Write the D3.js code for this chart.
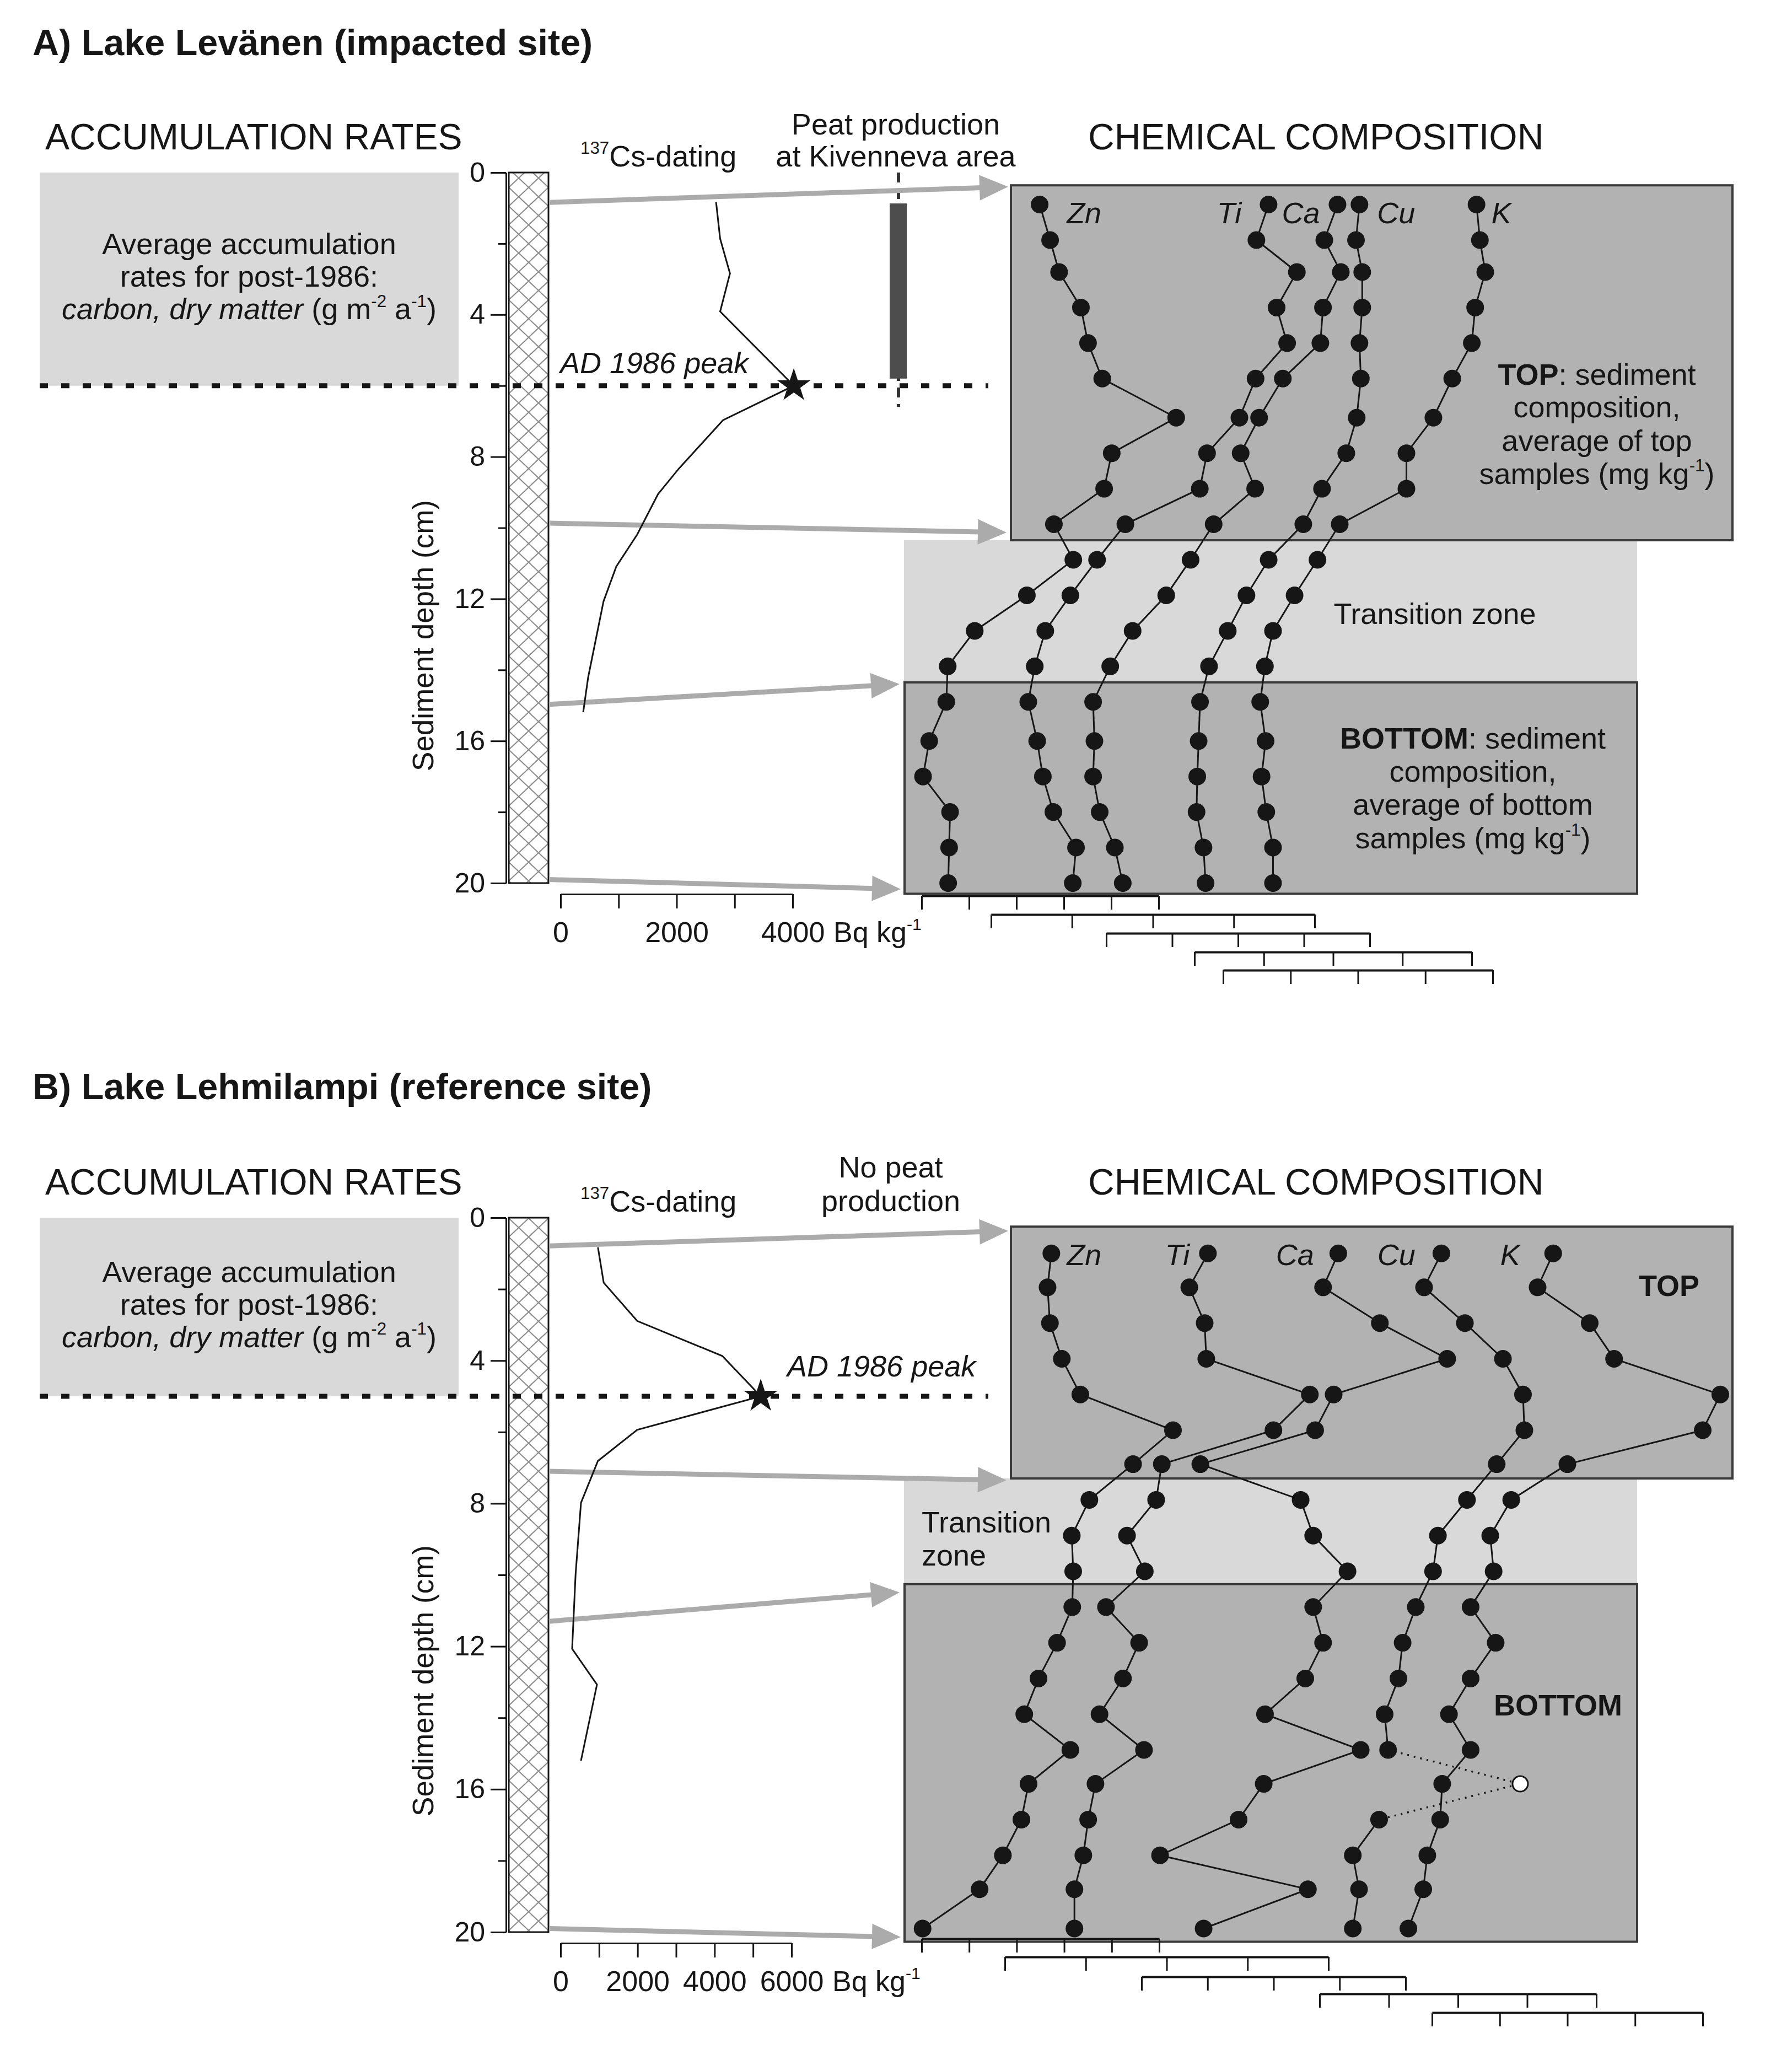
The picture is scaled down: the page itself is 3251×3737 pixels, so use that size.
<!DOCTYPE html>
<html>
<head>
<meta charset="utf-8">
<script src="https://cdn.jsdelivr.net/npm/d3@7"></script>
<style>
  body { margin: 0; background: #fff; }
  svg { display: block; font-family: "Liberation Sans", Arial, sans-serif; }
</style>
</head>
<body>
<div id="chart"></div>
<script>

// Sediment profile figure: 137Cs dating + element profiles for two lakes

// ---- shared values ----
const elementNames = ["Zn", "Ti", "Ca", "Cu", "K"];
const depthTicks = [0, 4, 8, 12, 16, 20];
const depthMinorTicks = [2, 6, 10, 14, 18];

// ---- A) Lake Levänen ----
// element values are read in units of their own (unlabelled) axis intervals
const sampleDepthA = [0.9, 1.9, 2.8, 3.8, 4.8, 5.8, 6.9, 7.9, 8.9, 9.9, 10.9, 11.9, 12.9, 13.9, 14.9, 16, 17, 18, 19, 20];
const znA = [2.49, 2.71, 2.90, 3.36, 3.51, 3.81, 5.37, 4.01, 3.85, 2.79, 3.20, 2.22, 1.12, 0.55, 0.52, 0.16, 0.03, 0.60, 0.58, 0.56];
const tiA = [3.43, 3.28, 3.78, 3.53, 3.66, 3.27, 3.07, 2.67, 2.58, 1.66, 1.31, 0.98, 0.67, 0.54, 0.46, 0.57, 0.64, 0.77, 1.05, 1.01];
const caA = [3.51, 3.31, 3.56, 3.29, 3.25, 2.68, 2.32, 2.04, 2.26, 1.63, 1.28, 0.91, 0.40, 0.06, -0.20, -0.18, -0.20, -0.10, 0.13, 0.25];
const cuA = [2.38, 2.33, 2.42, 2.42, 2.38, 2.40, 2.34, 2.19, 1.84, 1.57, 1.07, 0.75, 0.48, 0.21, 0.08, 0.06, 0.04, 0.03, 0.13, 0.16];
const kA  = [3.76, 3.81, 3.89, 3.74, 3.69, 3.40, 3.12, 2.72, 2.72, 1.73, 1.40, 1.06, 0.74, 0.62, 0.55, 0.63, 0.57, 0.64, 0.74, 0.74];
const axisIntervalsA = [5, 4, 4, 4, 4];

const csDepthA = [0.83, 1.86, 2.84, 3.91, 6.0, 6.97, 8.33, 9.05, 10.19, 11.09, 12.07, 14.21, 15.19];
const csValueA = [2680, 2750, 2920, 2750, 4020, 2800, 2040, 1680, 1320, 960, 740, 475, 390];
const peakA = [6.0, 4020];            // depth (cm), Bq/kg
const csTicksA = [0, 1000, 2000, 3000, 4000];
const csLabelsA = [0, 2000, 4000];
const zoneDepthA = [0.36, 10.35, 14.35, 20.3];   // top start, transition start, bottom start, bottom end
const arrowDepthA = [[0.84, 0.40], [9.87, 10.13], [14.97, 14.4], [19.9, 20.17]];
const peatDepthA = [0.87, 5.8];
const peatTextA = ["Peat production", "at Kivenneva area"];

// ---- B) Lake Lehmilampi ----
const sampleDepthB = [1, 1.95, 2.95, 3.95, 4.95, 5.95, 6.9, 7.9, 8.9, 9.9, 10.9, 11.9, 12.9, 13.9, 14.9, 15.85, 16.85, 17.85, 18.8, 19.9];
const znB = [2.73, 2.65, 2.70, 2.95, 3.34, 5.29, 4.45, 3.53, 3.16, 3.19, 3.17, 2.85, 2.46, 2.16, 3.13, 2.25, 2.10, 1.71, 1.22, 0.02];
const tiB = [2.51, 2.28, 2.47, 2.49, 3.77, 3.32, 1.94, 1.87, 1.51, 1.73, 1.25, 1.66, 1.46, 1.17, 1.72, 1.12, 1.03, 0.97, 0.86, 0.86];
const caB = [2.98, 2.75, 3.61, 4.63, 2.91, 2.63, 0.89, 2.41, 2.60, 3.12, 2.60, 2.75, 2.48, 1.87, 3.32, 1.85, 1.47, 0.28, 2.52, 0.94];
const cuB = [1.76, 1.51, 2.10, 2.65, 2.94, 2.96, 2.56, 2.13, 1.71, 1.64, 1.39, 1.20, 1.14, 0.94, 0.99, 2.90, 0.86, 0.48, 0.57, 0.48];
const kB  = [1.79, 1.56, 2.33, 2.69, 4.26, 4.00, 2.00, 1.17, 0.86, 0.91, 0.57, 0.94, 0.57, 0.25, 0.57, 0.15, 0.12, -0.07, -0.13, -0.35];
const axisIntervalsB = [5, 4, 4, 4, 4];
const cuOutlierB = 15;   // open circle, joined with dotted lines

const csDepthB = [0.83, 1.82, 2.89, 3.87, 5.0, 5.94, 6.81, 7.98, 9.98, 12.07, 13.07, 15.2];
const csValueB = [970, 1120, 1990, 4200, 5200, 1990, 970, 530, 390, 300, 945, 530];
const peakB = [5.0, 5200];
const csTicksB = [0, 1000, 2000, 3000, 4000, 5000, 6000];
const csLabelsB = [0, 2000, 4000, 6000];
const zoneDepthB = [0.25, 7.3, 10.26, 20.27];
const arrowDepthB = [[0.79, 0.37], [7.1, 7.35], [11.3, 10.49], [19.9, 20.14]];
const peatTextB = ["No peat", "production"];


// ---- svg ----
const W = 3251, H = 3737;
const svg = d3.select("#chart").append("svg")
  .attr("width", W).attr("height", H)
  .attr("viewBox", [0, 0, W, H]);
svg.append("rect").attr("width", W).attr("height", H).attr("fill", "#fff");

const ink = "#161616";
const colX = 923, colW = 72;          // hatched core column
const axisX = 918;

const defs = svg.append("defs");
const hatch = defs.append("pattern")
  .attr("id", "hatch")
  .attr("patternUnits", "userSpaceOnUse")
  .attr("x", colX).attr("y", 0)
  .attr("width", 36).attr("height", 34);
hatch.append("rect").attr("width", 36).attr("height", 34).attr("fill", "#fff");
hatch.append("path")
  .attr("d", "M0,0L36,34M36,0L0,34M-2,32L2,36M34,-2L38,2")
  .attr("stroke", "#8c8c8c").attr("stroke-width", 2);

// text with italic / bold / superscript pieces
function richText(sel, parts, fs) {
  let raised = false;
  parts.forEach(p => {
    const t = sel.append("tspan").text(p.t);
    if (p.i) t.attr("font-style", "italic");
    if (p.b) t.attr("font-weight", "bold");
    if (p.sup) {
      t.attr("font-size", fs * 0.58);
      if (!raised) t.attr("dy", -fs * 0.42);
      raised = true;
    } else if (raised) {
      t.attr("dy", fs * 0.42);
      raised = false;
    }
  });
}

function grayArrow(x1, y1, x2, y2) {
  const a = Math.atan2(y2 - y1, x2 - x1);
  const L = 52, hw = 23;
  const bx = x2 - L * Math.cos(a), by = y2 - L * Math.sin(a);
  svg.append("line")
    .attr("x1", x1).attr("y1", y1)
    .attr("x2", bx + 4 * Math.cos(a)).attr("y2", by + 4 * Math.sin(a))
    .attr("stroke", "#ababab").attr("stroke-width", 9);
  const px = -Math.sin(a), py = Math.cos(a);
  svg.append("path")
    .attr("d", `M${x2},${y2}L${bx + hw * px},${by + hw * py}L${bx - hw * px},${by - hw * py}Z`)
    .attr("fill", "#ababab");
}

function drawPanel(c) {
  const y = d3.scaleLinear().domain([0, 20]).range([c.y0, c.y20]);
  const cs = d3.scaleLinear().domain([0, c.csMax]).range([1017, c.csRight]);
  const peakY = y(c.peak[0]);

  // headings
  svg.append("text").attr("x", 59).attr("y", c.titleY)
    .attr("font-size", 66.5).attr("font-weight", "bold").attr("fill", ink).text(c.title);
  svg.append("text").attr("x", 82).attr("y", c.y0 - 42)
    .attr("font-size", 66).attr("fill", ink).text("ACCUMULATION RATES");
  svg.append("text").attr("x", 1974).attr("y", c.y0 - 42)
    .attr("font-size", 66).attr("fill", ink).text("CHEMICAL COMPOSITION");

  // accumulation rate box
  svg.append("rect").attr("x", 72).attr("y", y(0)).attr("width", 760)
    .attr("height", peakY - y(0)).attr("fill", "#d9d9d9");
  const mid = (y(0) + peakY) / 2 + 14;
  svg.append("text").attr("x", 452).attr("y", mid - 59).attr("text-anchor", "middle")
    .attr("font-size", 54).attr("fill", ink).text("Average accumulation");
  svg.append("text").attr("x", 452).attr("y", mid).attr("text-anchor", "middle")
    .attr("font-size", 54).attr("fill", ink).text("rates for post-1986:");
  richText(svg.append("text").attr("x", 452).attr("y", mid + 59).attr("text-anchor", "middle")
    .attr("font-size", 54).attr("fill", ink),
    [{t: "carbon, dry matter", i: true}, {t: " (g m"}, {t: "-2", sup: true}, {t: " a"}, {t: "-1", sup: true}, {t: ")"}], 54);

  // chemistry zones
  const [zTop, zTrans, zBot, zEnd] = c.zones;
  svg.append("rect").attr("x", 1640).attr("y", y(zTrans)).attr("width", 1330)
    .attr("height", y(zBot) - y(zTrans)).attr("fill", "#d9d9d9");
  svg.append("rect").attr("x", 1834).attr("y", y(zTop)).attr("width", 1309)
    .attr("height", y(zTrans) - y(zTop)).attr("fill", "#b2b2b2")
    .attr("stroke", "#3a3a3a").attr("stroke-width", 4);
  svg.append("rect").attr("x", 1641).attr("y", y(zBot)).attr("width", 1329)
    .attr("height", y(zEnd) - y(zBot)).attr("fill", "#b2b2b2")
    .attr("stroke", "#3a3a3a").attr("stroke-width", 4);

  // zone texts
  c.zoneTexts.forEach(t => {
    const el = svg.append("text").attr("x", t.x).attr("y", t.y)
      .attr("text-anchor", t.anchor || "start").attr("font-size", 54).attr("fill", ink);
    richText(el, t.parts, 54);
  });

  // hatched core column
  svg.append("rect").attr("x", colX).attr("y", y(0)).attr("width", colW)
    .attr("height", y(20) - y(0)).attr("fill", "url(#hatch)")
    .attr("stroke", ink).attr("stroke-width", 3);

  // depth axis
  const minor = svg.append("g").attr("transform", `translate(${axisX},0)`)
    .call(d3.axisLeft(y).tickValues(depthMinorTicks).tickSize(14).tickFormat("").tickSizeOuter(0));
  const major = svg.append("g").attr("transform", `translate(${axisX},0)`)
    .call(d3.axisLeft(y).tickValues(depthTicks).tickSize(28).tickPadding(10).tickSizeOuter(0));
  [minor, major].forEach(g => {
    g.selectAll("path, line").attr("stroke", ink).attr("stroke-width", 3);
    g.selectAll("text").attr("font-size", 50).attr("fill", ink)
      .attr("font-family", "Liberation Sans, Arial, sans-serif");
  });
  svg.append("text")
    .attr("transform", `translate(786,${c.y0 + 840}) rotate(-90)`)
    .attr("text-anchor", "middle").attr("font-size", 53).attr("fill", ink)
    .text("Sediment depth (cm)");

  // Cs axis
  const csAxis = svg.append("g").attr("transform", `translate(0,${c.y20 + 20})`)
    .call(d3.axisBottom(cs).tickValues(c.csTicks).tickSize(26).tickPadding(24)
      .tickSizeOuter(0).tickFormat(d => c.csLabels.includes(d) ? d : ""));
  csAxis.selectAll("path, line").attr("stroke", ink).attr("stroke-width", 3);
  csAxis.selectAll("text").attr("font-size", 52).attr("fill", ink)
    .attr("font-family", "Liberation Sans, Arial, sans-serif");
  richText(svg.append("text").attr("x", cs(c.csMax) + 74).attr("y", c.y20 + 107)
    .attr("font-size", 52).attr("fill", ink),
    [{t: "Bq kg"}, {t: "-1", sup: true}], 52);

  // Cs heading and peat heading
  richText(svg.append("text").attr("x", 1053).attr("y", c.y0 - 11)
    .attr("font-size", 54).attr("fill", ink),
    [{t: "137", sup: true}, {t: "Cs-dating"}], 54);
  c.peatText.forEach((s, i) => {
    svg.append("text").attr("x", c.peatX).attr("y", c.y0 + c.peatY[i])
      .attr("text-anchor", "middle").attr("font-size", 54).attr("fill", ink).text(s);
  });

  // peat production bar (A only)
  if (c.peat) {
    svg.append("line").attr("x1", 1630).attr("x2", 1630)
      .attr("y1", y(0)).attr("y2", y(6.6))
      .attr("stroke", "#333").attr("stroke-width", 6).attr("stroke-dasharray", "18,12");
    svg.append("rect").attr("x", 1614).attr("y", y(c.peat[0])).attr("width", 31)
      .attr("height", y(c.peat[1]) - y(c.peat[0])).attr("fill", "#4d4d4d");
  }

  // arrows from core to chemistry zones
  const arrowEndX = [1829, 1826, 1632, 1634];
  c.arrows.forEach((a, i) => grayArrow(colX + colW + 1, y(a[0]), arrowEndX[i], y(a[1])));

  // AD 1986 peak dashed line
  svg.append("line").attr("x1", 72).attr("x2", 1793)
    .attr("y1", peakY).attr("y2", peakY)
    .attr("stroke", ink).attr("stroke-width", 9).attr("stroke-dasharray", "15,24");
  svg.append("text").attr("x", c.peakLabel[0]).attr("y", peakY - c.peakLabel[1])
    .attr("font-size", 54).attr("font-style", "italic").attr("fill", ink).text("AD 1986 peak");

  // Cs profile
  const csLine = d3.line().x((d, i) => cs(c.csValue[i])).y(d => y(d));
  svg.append("path").attr("d", csLine(c.csDepth))
    .attr("fill", "none").attr("stroke", ink).attr("stroke-width", 3);
  svg.append("path")
    .attr("d", d3.symbol().type(d3.symbolStar).size(1150)())
    .attr("transform", `translate(${cs(c.peak[1])},${peakY})`)
    .attr("fill", ink);

  // element axes and profiles
  c.series.forEach((vals, k) => {
    const ax = c.elemAxes[k];
    const n = c.intervals[k];
    const xs = d3.scaleLinear().domain([0, n]).range([ax[0], ax[1]]);
    const g = svg.append("g").attr("transform", `translate(0,${c.y20 + ax[2]})`)
      .call(d3.axisBottom(xs).tickValues(d3.range(n + 1)).tickSize(25).tickSizeOuter(0).tickFormat(""));
    g.select(".domain").attr("stroke", ink).attr("stroke-width", 4);
    g.selectAll(".tick line").attr("stroke", ink).attr("stroke-width", 3);

    const out = c.outlier && c.outlier[0] === k ? c.outlier[1] : -1;
    const line = d3.line()
      .defined((d, i) => i !== out)
      .x((d, i) => xs(vals[i])).y(d => y(d));
    svg.append("path").attr("d", line(c.depths))
      .attr("fill", "none").attr("stroke", ink).attr("stroke-width", 3);
    if (out >= 0) {
      const dotted = d3.line().x(i => xs(vals[i])).y(i => y(c.depths[i]));
      svg.append("path").attr("d", dotted([out - 1, out, out + 1]))
        .attr("fill", "none").attr("stroke", ink).attr("stroke-width", 3.5)
        .attr("stroke-dasharray", "3,9");
    }
    svg.append("g").selectAll("circle")
      .data(c.depths)
      .join("circle")
      .attr("cx", (d, i) => xs(vals[i]))
      .attr("cy", d => y(d))
      .attr("r", (d, i) => i === out ? 14 : 16)
      .attr("fill", (d, i) => i === out ? "#fff" : ink)
      .attr("stroke", ink).attr("stroke-width", (d, i) => i === out ? 3 : 0);

    const lab = c.labels[k];
    svg.append("text")
      .attr("x", xs(vals[0]) + lab[0]).attr("y", y(c.depths[0]) + c.labelDy)
      .attr("text-anchor", lab[1]).attr("font-size", 54).attr("font-style", "italic")
      .attr("fill", ink).text(elementNames[k]);
  });
}

drawPanel({
  title: "A) Lake Levänen (impacted site)", titleY: 100,
  y0: 313, y20: 1602,
  csMax: 4000, csRight: 1438, csTicks: csTicksA, csLabels: csLabelsA,
  csDepth: csDepthA, csValue: csValueA, peak: peakA, peakLabel: [1016, 23],
  zones: zoneDepthA, arrows: arrowDepthA,
  peat: peatDepthA, peatText: peatTextA, peatX: 1625, peatY: [-69, -11],
  depths: sampleDepthA, series: [znA, tiA, caA, cuA, kA], intervals: axisIntervalsA,
  elemAxes: [[1672, 2102, 23], [1798, 2385, 57], [2007, 2485, 91], [2167, 2670, 125], [2219, 2708, 158]],
  labels: [[49, "start"], [-49, "end"], [-32, "end"], [32, "start"], [27, "start"]], labelDy: 34,
  zoneTexts: [
    {x: 2897, y: 698, anchor: "middle", parts: [{t: "TOP", b: true}, {t: ": sediment"}]},
    {x: 2897, y: 757, anchor: "middle", parts: [{t: "composition,"}]},
    {x: 2897, y: 818, anchor: "middle", parts: [{t: "average of top"}]},
    {x: 2897, y: 878, anchor: "middle", parts: [{t: "samples (mg kg"}, {t: "-1", sup: true}, {t: ")"}]},
    {x: 2603, y: 1132, anchor: "middle", parts: [{t: "Transition zone"}]},
    {x: 2672, y: 1358, anchor: "middle", parts: [{t: "BOTTOM", b: true}, {t: ": sediment"}]},
    {x: 2672, y: 1418, anchor: "middle", parts: [{t: "composition,"}]},
    {x: 2672, y: 1478, anchor: "middle", parts: [{t: "average of bottom"}]},
    {x: 2672, y: 1539, anchor: "middle", parts: [{t: "samples (mg kg"}, {t: "-1", sup: true}, {t: ")"}]}
  ]
});

drawPanel({
  title: "B) Lake Lehmilampi (reference site)", titleY: 1994,
  y0: 2209, y20: 3505,
  csMax: 6000, csRight: 1436, csTicks: csTicksB, csLabels: csLabelsB,
  csDepth: csDepthB, csValue: csValueB, peak: peakB, peakLabel: [1428, 36],
  zones: zoneDepthB, arrows: arrowDepthB,
  peat: null, peatText: peatTextB, peatX: 1616, peatY: [-73, -12],
  depths: sampleDepthB, series: [znB, tiB, caB, cuB, kB], intervals: axisIntervalsB,
  outlier: [3, cuOutlierB],
  elemAxes: [[1672, 2103, 12], [1823, 2410, 45], [2071, 2550, 81], [2394, 2896, 112], [2598, 3089, 146]],
  labels: [[28, "start"], [-33, "end"], [-44, "end"], [-47, "end"], [-60, "end"]], labelDy: 21,
  zoneTexts: [
    {x: 2973, y: 2351, parts: [{t: "TOP", b: true}]},
    {x: 1672, y: 2780, parts: [{t: "Transition"}]},
    {x: 1672, y: 2840, parts: [{t: "zone"}]},
    {x: 2710, y: 3112, parts: [{t: "BOTTOM", b: true}]}
  ]
});

</script>
</body>
</html>
